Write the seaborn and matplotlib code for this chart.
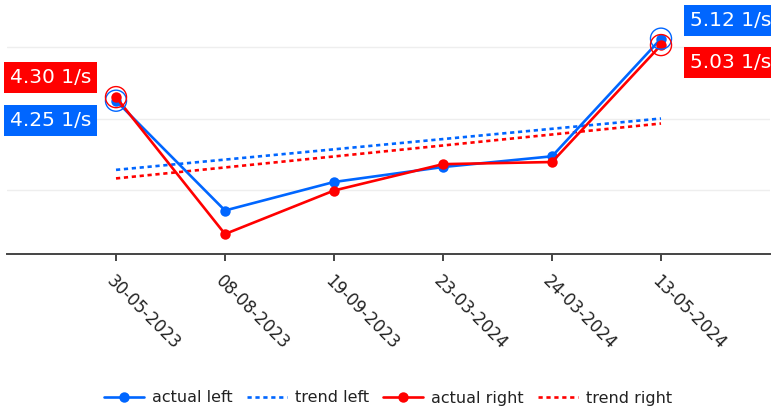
import pandas as pd
import seaborn as sns
import matplotlib.pyplot as plt

# values
dates = ["30-05-2023", "08-08-2023", "19-09-2023", "23-03-2024", "24-03-2024", "13-05-2024"]
actual_left = [4.25, 2.71, 3.11, 3.32, 3.47, 5.12]
actual_right = [4.30, 2.38, 2.99, 3.36, 3.39, 5.03]
trend_ends = [dates[0], dates[-1]]
trend_left = [3.28, 4.00]
trend_right = [3.16, 3.93]
grid_values = [3, 4, 5]
unit = "1/s"

BLUE = "#0066FF"
RED = "#FF0000"

sns.set_theme(style="white")
plt.rcParams['font.family'] = ['DejaVu Sans']

fig = plt.figure(figsize=(7.71, 4.12), dpi=100)
ax = fig.add_axes([7 / 771, 158 / 412, 763 / 771, 246 / 412])

left_df = pd.DataFrame({'date': dates, 'value': actual_left})
right_df = pd.DataFrame({'date': dates, 'value': actual_right})

# actual lines (categorical x axis set up by the first call)
sns.lineplot(data=left_df, x='date', y='value', color=BLUE, linewidth=1.9, marker='o',
             markersize=7.5, markeredgewidth=0, label='actual left', ax=ax, zorder=4)
sns.lineplot(data=right_df, x='date', y='value', color=RED, linewidth=1.9, marker='o',
             markersize=7.5, markeredgewidth=0, label='actual right', ax=ax, zorder=5)

# trend lines
sns.lineplot(x=trend_ends, y=trend_left, color=BLUE, linewidth=1.9,
             linestyle=(0, (1.6, 1.4)), label='trend left', ax=ax, zorder=3)
sns.lineplot(x=trend_ends, y=trend_right, color=RED, linewidth=1.9,
             linestyle=(0, (1.6, 1.4)), label='trend right', ax=ax, zorder=3)

# rings around first and last points
ax.scatter([dates[0], dates[-1]], [actual_left[0], actual_left[-1]], s=230,
           facecolors='none', edgecolors=BLUE, linewidths=1.0, zorder=6)
ax.scatter([dates[0], dates[-1]], [actual_right[0], actual_right[-1]], s=230,
           facecolors='none', edgecolors=RED, linewidths=1.0, zorder=6)

ax.set_xlim(-1, 6)
ax.set_ylim(2.1, 5.55)
ax.set_yticks(grid_values)
ax.set_yticklabels([])
ax.tick_params(axis='y', length=0)
ax.grid(axis='y', color='#eeeeee', linewidth=1)
ax.grid(axis='x', visible=False)
ax.set_xlabel('')
ax.set_ylabel('')
for side in ['top', 'right', 'left']:
    ax.spines[side].set_visible(False)
ax.spines['bottom'].set_color('#444444')
ax.spines['bottom'].set_linewidth(1.4)
ax.tick_params(axis='x', bottom=True, length=5, width=1.4, color='#444444', pad=8,
               labelsize=12, labelcolor='#222222')
for lab in ax.get_xticklabels():
    lab.set_rotation(-45)
    lab.set_ha('left')
    lab.set_va('top')
    lab.set_rotation_mode('anchor')

# value boxes
box = dict(boxstyle='square,pad=0.28', ec='none')
fig.text(10 / 771, 1 - 77.5 / 412, f"{actual_right[0]:.2f} {unit}", color='white', fontsize=14.5,
         ha='left', va='center', bbox=dict(box, fc=RED))
fig.text(10 / 771, 1 - 120.5 / 412, f"{actual_left[0]:.2f} {unit}", color='white', fontsize=14.5,
         ha='left', va='center', bbox=dict(box, fc=BLUE))
fig.text(690 / 771, 1 - 20.5 / 412, f"{actual_left[-1]:.2f} {unit}", color='white', fontsize=14.5,
         ha='left', va='center', bbox=dict(box, fc=BLUE))
fig.text(690 / 771, 1 - 62.5 / 412, f"{actual_right[-1]:.2f} {unit}", color='white', fontsize=14.5,
         ha='left', va='center', bbox=dict(box, fc=RED))

handles, labels = ax.get_legend_handles_labels()
order = ['actual left', 'trend left', 'actual right', 'trend right']
hmap = dict(zip(labels, handles))
ax.legend_.remove()
fig.legend([hmap[k] for k in order], order, loc='center', bbox_to_anchor=(388 / 771, 1 - 398 / 412),
           ncol=4, frameon=False, fontsize=11.5, handlelength=2.5, handletextpad=0.5,
           columnspacing=0.9, labelcolor='#222222')

fig.savefig('out.png', dpi=100)
